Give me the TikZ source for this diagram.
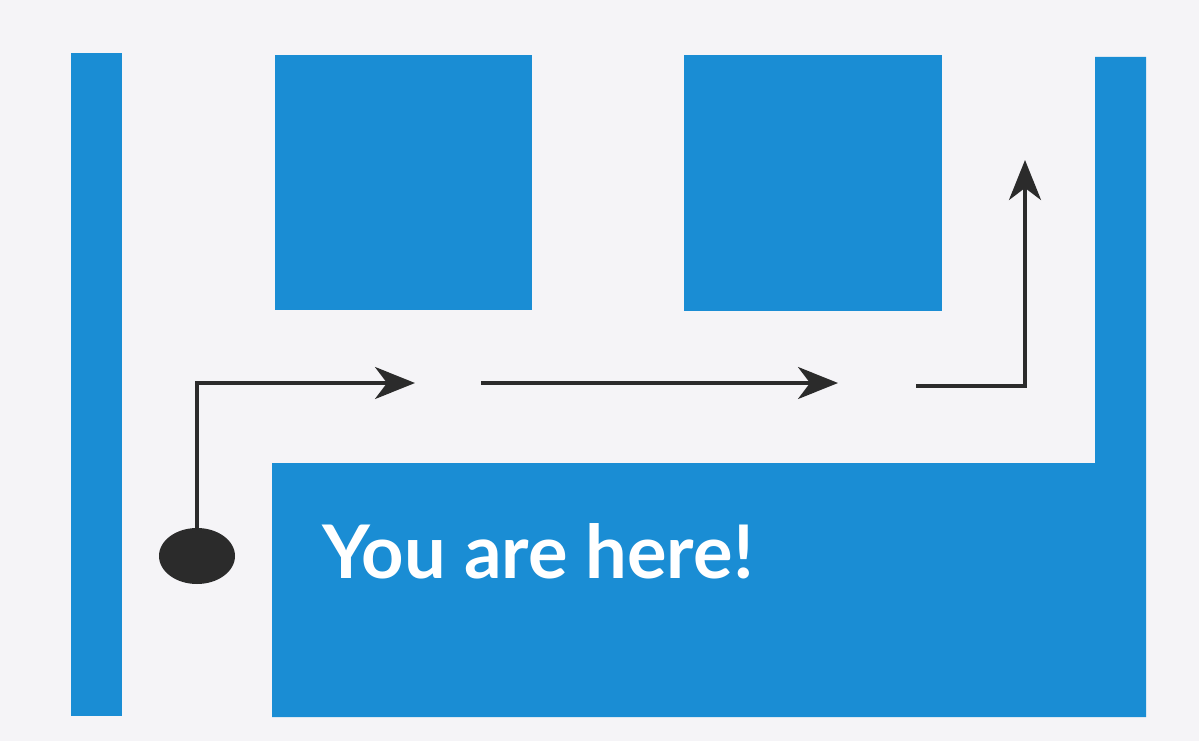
\documentclass[tikz,border=0pt]{standalone}
\usepackage{fontspec}
\setmainfont{Lato}
\usetikzlibrary{arrows.meta,shapes.geometric,positioning}
\definecolor{mapblue}{HTML}{1A8DD4}
\definecolor{mapbg}{HTML}{F5F4F7}
\definecolor{routegray}{HTML}{2B2B2B}

\begin{document}
\begin{tikzpicture}[x=1pt,y=-1pt,
  wall/.style={fill=mapblue,draw=none},
  route/.style={draw=routegray,line width=3.5pt,line join=miter,
    -{Stealth[length=40pt,width=32pt,inset=12pt]}},
]
  \fill[mapbg] (0,0) rectangle (1199,741);
  % walls
  \fill[wall] (71,53) rectangle (122,716);
  \fill[wall] (275,55) rectangle (532,310);
  \fill[wall] (684,55) rectangle (942,311);
  \fill[wall] (272,463) -- (1095,463) -- (1095,57) -- (1146,57)
    -- (1146,717) -- (272,717) -- cycle;
  \node[ellipse,fill=routegray,minimum width=76pt,minimum height=56pt,inner sep=0pt]
    (here) at (197,556) {};
  \node[text=white,font=\fontsize{74}{90}\selectfont\bfseries,anchor=base west,inner sep=0pt]
    (label) at (322,578) {You are here!};
  \coordinate (leg1) at (415,383);
  \coordinate (leg2a) at (481,383);
  \coordinate (leg2b) at (838,383);
  \coordinate (leg3a) at (916,386);
  \coordinate (leg3b) at (1025,160);
  \draw[route] (here.north) |- (leg1);
  \draw[route] (leg2a) -- (leg2b);
  \draw[route] (leg3a) -| (leg3b);
\end{tikzpicture}
\end{document}
